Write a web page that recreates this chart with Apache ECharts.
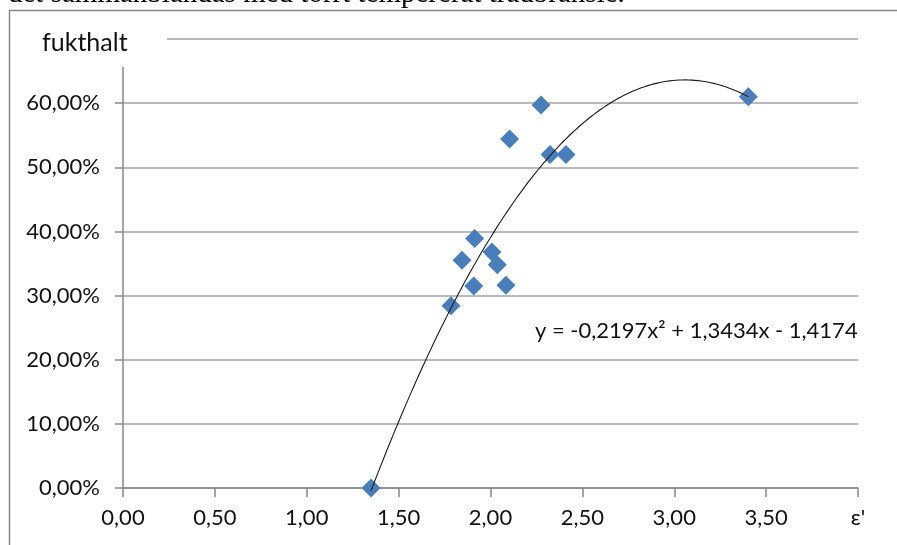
<!DOCTYPE html>
<html>
<head>
<meta charset="utf-8">
<title>fukthalt</title>
<script src="https://cdn.jsdelivr.net/npm/echarts@6/dist/echarts.min.js"></script>
<style>
html, body { margin: 0; padding: 0; background: #fff; }
#chartDom { width: 897px; height: 545px; }
</style>
</head>
<body>
<div id="chartDom"></div>
<script>
// mätvärden: epsilon' mot fukthalt
var epsValues = [1.35, 1.785, 1.845, 1.909, 1.914, 2.008, 2.037, 2.084, 2.104, 2.275, 2.324, 2.411, 3.403];
var moistValues = [0.000, 0.284, 0.355, 0.315, 0.389, 0.368, 0.348, 0.316, 0.544, 0.597, 0.520, 0.520, 0.610];
// trendlinje y = a*x^2 + b*x + c
var trendCoef = [-0.2197, 1.3434, -1.4174];
var xTickLabels = ['0,00', '0,50', '1,00', '1,50', '2,00', '2,50', '3,00', '3,50', "ε'"];
var yTickLabels = ['0,00%', '10,00%', '20,00%', '30,00%', '40,00%', '50,00%', '60,00%', ''];

var labelFont = 'Lato, "Noto Sans", sans-serif';

var points = [];
for (var i = 0; i < epsValues.length; i++) {
  points.push([epsValues[i], moistValues[i]]);
}
var xFrom = Math.min.apply(null, epsValues);
var xTo = Math.max.apply(null, epsValues);

function trend(x) {
  return trendCoef[0] * x * x + trendCoef[1] * x + trendCoef[2];
}

var chartDom = document.getElementById('chartDom');
var myChart = echarts.init(chartDom);
var option;
option = {
  animation: false,
  backgroundColor: '#fff',
  grid: { left: 123, right: 39, top: 39, bottom: 57 },
  xAxis: {
    type: 'value',
    min: 0,
    max: 4,
    interval: 0.5,
    axisLine: { show: true, lineStyle: { color: '#868686', width: 1.5 } },
    axisTick: { show: true, length: 9, lineStyle: { color: '#868686', width: 1.5 } },
    splitLine: { show: false },
    axisLabel: {
      margin: 19,
      color: '#111',
      fontFamily: labelFont,
      fontSize: 22,
      formatter: function (v) { return xTickLabels[Math.round(v / 0.5)]; }
    }
  },
  yAxis: {
    type: 'value',
    min: 0,
    max: 0.7,
    interval: 0.1,
    axisLine: { show: true, lineStyle: { color: '#868686', width: 1.5 } },
    axisTick: { show: true, length: 8, lineStyle: { color: '#868686', width: 1.5 } },
    splitLine: { show: true, lineStyle: { color: '#a3a3a3', width: 1.5 } },
    axisLabel: {
      margin: 23,
      color: '#111',
      fontFamily: labelFont,
      fontSize: 22,
      formatter: function (v) { return yTickLabels[Math.round(v / 0.1)]; }
    }
  },
  graphic: [
    // ram runt diagrammet
    {
      type: 'polyline', z: 100,
      shape: { points: [[9.5, 545], [9.5, 10.5], [897, 10.5]] },
      style: { stroke: '#868686', lineWidth: 1.5, fill: null }
    },
    // dokumenttext ovanför diagrammet (avklippt)
    {
      type: 'text', z: 100, left: 8, top: -20,
      style: { text: 'det sammanblandas med torrt tempererat trädbränsle.', font: '29px "Liberation Serif", serif', fill: '#000' }
    },
    // axeltitelns vita ruta
    {
      type: 'rect', z: 100,
      shape: { x: 30, y: 22, width: 137, height: 45 },
      style: { fill: '#fff' }
    },
    {
      type: 'text', z: 101, left: 42, top: 30,
      style: { text: 'fukthalt', font: '25px Lato, sans-serif', fill: '#111' }
    },
    {
      type: 'text', z: 101, left: 535, top: 320,
      style: { text: 'y = -0,2197x² + 1,3434x - 1,4174', font: '22px Lato, sans-serif', fill: '#111' }
    }
  ],
  series: [
    {
      name: 'fukthalt',
      type: 'scatter',
      symbol: 'diamond',
      symbolSize: 19,
      itemStyle: { color: '#4a7ebb', opacity: 1 },
      data: points
    },
    {
      name: 'trend',
      type: 'custom',
      z: 5,
      silent: true,
      data: [[xFrom, trend(xFrom)]],
      renderItem: function (params, api) {
        var pts = [];
        var steps = 120;
        for (var k = 0; k <= steps; k++) {
          var x = xFrom + (xTo - xFrom) * k / steps;
          pts.push(api.coord([x, trend(x)]));
        }
        return {
          type: 'polyline',
          shape: { points: pts, smooth: false },
          style: { stroke: '#1a1a1a', lineWidth: 1.1, fill: null }
        };
      }
    }
  ]
};
option && myChart.setOption(option);
window.addEventListener('resize', function () {
  myChart.resize();
});
</script>
</body>
</html>
